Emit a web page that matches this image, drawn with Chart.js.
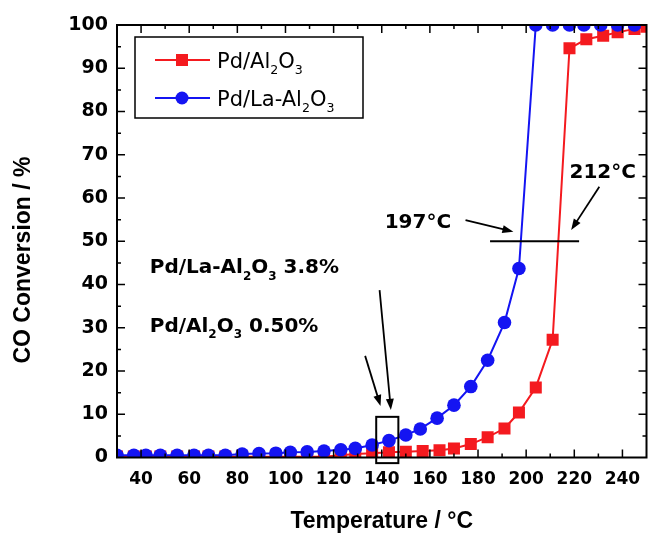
<!DOCTYPE html>
<html>
<head>
<meta charset="utf-8">
<title>CO conversion vs temperature</title>
<script src="https://cdn.jsdelivr.net/npm/chart.js@4.4.1/dist/chart.umd.min.js"></script>
<style>
    html, body { margin: 0; padding: 0; background: #fff; }
    canvas { display: block; }
</style>
</head>
<body>
<canvas id="co-chart" width="655" height="533"></canvas>
<script>
// Pd/Al2O3 (red squares)
const tempAl = [30, 37, 42, 48, 55, 62, 68, 75, 82, 89, 96, 102, 109, 116,
    123, 129, 136, 143, 150, 157, 164, 170, 177, 184, 191, 197, 204, 211, 218, 225, 232, 238, 245, 250];
const convAl = [0.2, 0.2, 0.2, 0.2, 0.2, 0.2, 0.2, 0.2, 0.2, 0.2, 0.2, 0.2, 0.2, 0.2,
    0.5, 0.8, 1.0, 1.2, 1.35, 1.5, 1.7, 2.1, 3.1, 4.7, 6.7, 10.4, 16.2, 27.2, 94.6, 96.7, 97.5, 98.3, 99.1, 99.6];

// Pd/La-Al2O3 (blue circles)
const tempLa = [30, 37, 42, 48, 55, 62, 68, 75, 82, 89, 96, 102, 109, 116, 123, 129,
    136, 143, 150, 156, 163, 170, 177, 184, 191, 197, 204, 211, 218, 224, 231, 238, 245];
const convLa = [0.5, 0.5, 0.5, 0.5, 0.5, 0.5, 0.5, 0.5, 0.8, 0.9, 1.0, 1.2, 1.3, 1.5, 1.8, 2.1,
    2.9, 3.9, 5.2, 6.6, 9.1, 12.1, 16.4, 22.5, 31.2, 43.7, 100, 100, 100, 100, 100, 100, 100];

const xMajorTicks = [40, 60, 80, 100, 120, 140, 160, 180, 200, 220, 240];
const xMinorTicks = [50, 70, 90, 110, 130, 150, 170, 190, 210, 230];
const yMajorTicks = [0, 10, 20, 30, 40, 50, 60, 70, 80, 90, 100];
const yMinorTicks = [5, 15, 25, 35, 45, 55, 65, 75, 85, 95];

const RED = '#f41a1f';
const BLUE = '#1414f2';
const FONT = '"DejaVu Sans"';
const TITLE_FONT = '"Liberation Sans", Arial';

Chart.defaults.font.family = FONT;
Chart.defaults.color = '#000';

function toPoints(xs, ys) {
    return xs.map((x, i) => ({ x, y: ys[i] }));
}

function drawRich(ctx, parts, x, y, size, weight) {
    let cx = x;
    parts.forEach((part) => {
        const s = part.sub ? size * 0.6 : size;
        ctx.font = `${weight} ${s}px ${FONT}`;
        ctx.fillText(part.t, cx, part.sub ? y + size * 0.33 : y);
        cx += ctx.measureText(part.t).width;
    });
}

function drawArrow(ctx, x0, y0, x1, y1) {
    const ang = Math.atan2(y1 - y0, x1 - x0);
    const len = 11;
    const half = 4;
    const c = Math.cos(ang);
    const s = Math.sin(ang);
    ctx.beginPath();
    ctx.moveTo(x0, y0);
    ctx.lineTo(x1 - len * 0.8 * c, y1 - len * 0.8 * s);
    ctx.stroke();
    ctx.beginPath();
    ctx.moveTo(x1, y1);
    ctx.lineTo(x1 - len * c + half * s, y1 - len * s - half * c);
    ctx.lineTo(x1 - len * c - half * s, y1 - len * s + half * c);
    ctx.closePath();
    ctx.fill();
}

// frame with inward ticks on all four sides
const framePlugin = {
    id: 'frame',
    afterDatasetsDraw(chart) {
        const { ctx, chartArea: a, scales: { x, y } } = chart;
        ctx.save();
        ctx.strokeStyle = '#000';
        ctx.lineWidth = 2;
        ctx.strokeRect(a.left, a.top, a.right - a.left, a.bottom - a.top);

        ctx.lineWidth = 1.5;
        ctx.beginPath();
        const xTick = (v, len) => {
            const px = x.getPixelForValue(v);
            ctx.moveTo(px, a.bottom); ctx.lineTo(px, a.bottom - len);
            ctx.moveTo(px, a.top); ctx.lineTo(px, a.top + len);
        };
        const yTick = (v, len) => {
            const py = y.getPixelForValue(v);
            ctx.moveTo(a.left, py); ctx.lineTo(a.left + len, py);
            ctx.moveTo(a.right, py); ctx.lineTo(a.right - len, py);
        };
        xMajorTicks.forEach((v) => xTick(v, 8));
        xMinorTicks.forEach((v) => xTick(v, 4));
        yMajorTicks.filter((v) => v > 0 && v < 100).forEach((v) => yTick(v, 8));
        yMinorTicks.forEach((v) => yTick(v, 4));
        ctx.stroke();

        // y axis title sits a little below the middle of the axis in the original
        ctx.translate(24, 260);
        ctx.rotate(-Math.PI / 2);
        ctx.fillStyle = '#000';
        ctx.textAlign = 'center';
        ctx.textBaseline = 'middle';
        ctx.font = `bold 23px ${TITLE_FONT}`;
        ctx.fillText('CO Conversion / %', 0, 0);
        ctx.restore();
    }
};

// T50 line, arrows, labels and the box around the 140 °C points
const notesPlugin = {
    id: 'notes',
    afterDatasetsDraw(chart) {
        const { ctx, scales: { x, y } } = chart;
        const px = (v) => x.getPixelForValue(v);
        const py = (v) => y.getPixelForValue(v);
        ctx.save();
        ctx.strokeStyle = '#000';
        ctx.fillStyle = '#000';
        ctx.textBaseline = 'alphabetic';
        ctx.textAlign = 'left';

        ctx.lineWidth = 2;
        ctx.beginPath();
        ctx.moveTo(px(185), py(50));
        ctx.lineTo(px(222), py(50));
        ctx.stroke();

        ctx.lineWidth = 1.8;
        drawArrow(ctx, px(174.8), py(54.9), px(194.7), py(52.2));
        drawArrow(ctx, px(230.4), py(62.6), px(218.7), py(52.6));
        drawArrow(ctx, px(139.1), py(38.7), px(143.8), py(11.0));
        drawArrow(ctx, px(133.1), py(23.5), px(139.5), py(11.9));

        ctx.lineWidth = 2;
        ctx.strokeRect(px(137.7), py(9.4), px(146.9) - px(137.7), py(-1.3) - py(9.4));

        drawRich(ctx, [{ t: '197°C' }], px(141.2), py(53.1), 20, 'bold');
        drawRich(ctx, [{ t: '212°C' }], px(218), py(64.6), 20, 'bold');
        drawRich(ctx, [{ t: 'Pd/La-Al' }, { t: '2', sub: true }, { t: 'O' }, { t: '3', sub: true }, { t: ' 3.8%' }],
            px(43.6), py(42.6), 20, 'bold');
        drawRich(ctx, [{ t: 'Pd/Al' }, { t: '2', sub: true }, { t: 'O' }, { t: '3', sub: true }, { t: ' 0.50%' }],
            px(43.6), py(29.1), 20, 'bold');
        ctx.restore();
    }
};

const legendPlugin = {
    id: 'boxLegend',
    afterDatasetsDraw(chart) {
        const { ctx, chartArea: a } = chart;
        const left = a.left + 18;
        const top = a.top + 12;
        ctx.save();
        ctx.strokeStyle = '#000';
        ctx.lineWidth = 1.5;
        ctx.strokeRect(left, top, 228, 81);

        const rows = [
            { color: RED, square: true, y: top + 23, parts: [{ t: 'Pd/Al' }, { t: '2', sub: true }, { t: 'O' }, { t: '3', sub: true }] },
            { color: BLUE, square: false, y: top + 61, parts: [{ t: 'Pd/La-Al' }, { t: '2', sub: true }, { t: 'O' }, { t: '3', sub: true }] }
        ];
        rows.forEach((row) => {
            ctx.strokeStyle = row.color;
            ctx.fillStyle = row.color;
            ctx.lineWidth = 2;
            ctx.beginPath();
            ctx.moveTo(left + 20, row.y);
            ctx.lineTo(left + 75, row.y);
            ctx.stroke();
            ctx.beginPath();
            if (row.square) {
                ctx.rect(left + 41, row.y - 6, 12, 12);
            } else {
                ctx.arc(left + 47, row.y, 6.5, 0, Math.PI * 2);
            }
            ctx.fill();
            ctx.fillStyle = '#000';
            drawRich(ctx, row.parts, left + 82, row.y + 7.5, 21, 'normal');
        });
        ctx.restore();
    }
};

new Chart(document.getElementById('co-chart'), {
    type: 'line',
    data: {
        datasets: [
            {
                label: 'Pd/La-Al2O3',
                data: toPoints(tempLa, convLa),
                borderColor: BLUE,
                backgroundColor: BLUE,
                borderWidth: 2,
                pointStyle: 'circle',
                pointRadius: 6.8,
                pointBorderWidth: 0,
                tension: 0,
                clip: 0,
                order: 0
            },
            {
                label: 'Pd/Al2O3',
                data: toPoints(tempAl, convAl),
                borderColor: RED,
                backgroundColor: RED,
                borderWidth: 2,
                pointStyle: 'rect',
                pointRadius: 8.5,
                pointBorderWidth: 0,
                tension: 0,
                clip: 0,
                order: 1
            }
        ]
    },
    options: {
        responsive: false,
        animation: false,
        layout: { padding: { top: 25, right: 4, left: 0, bottom: 0 } },
        plugins: {
            legend: { display: false },
            tooltip: { enabled: false }
        },
        scales: {
            x: {
                type: 'linear',
                min: 30,
                max: 250,
                afterBuildTicks: (scale) => { scale.ticks = xMajorTicks.map((value) => ({ value })); },
                afterFit: (scale) => { scale.height = 75.5; },
                grid: { display: false, drawTicks: false },
                border: { display: false },
                ticks: {
                    color: '#000',
                    padding: 12,
                    maxRotation: 0,
                    autoSkip: false,
                    font: { size: 17, weight: 'bold' }
                },
                title: {
                    display: true,
                    text: 'Temperature / °C',
                    color: '#000',
                    font: { family: TITLE_FONT, size: 23, weight: 'bold', lineHeight: 1 },
                    padding: { top: 0, bottom: 0 }
                }
            },
            y: {
                min: 0,
                max: 100,
                afterBuildTicks: (scale) => { scale.ticks = yMajorTicks.map((value) => ({ value })); },
                afterFit: (scale) => { scale.width = 117; },
                grid: { display: false, drawTicks: false },
                border: { display: false },
                ticks: {
                    color: '#000',
                    padding: 9,
                    font: { size: 19, weight: 'bold' }
                }
            }
        }
    },
    plugins: [framePlugin, notesPlugin, legendPlugin]
});
</script>
</body>
</html>
